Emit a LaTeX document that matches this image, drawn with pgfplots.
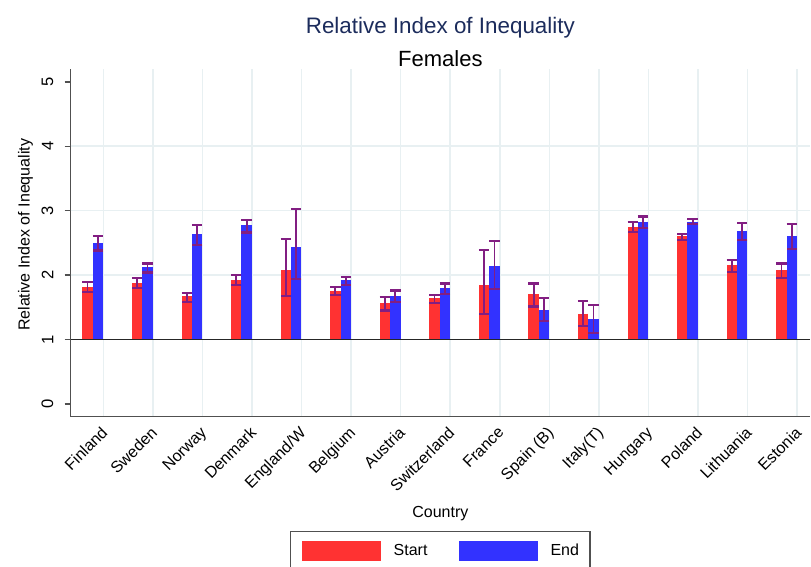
\documentclass[border=0pt]{standalone}
\usepackage{fontspec}
\setmainfont{Liberation Sans}
\usepackage{pgfplots}
\usepackage{pgfplotstable}
\pgfplotsset{compat=1.18}

\definecolor{barred}{RGB}{255,50,50}
\definecolor{barblue}{RGB}{50,50,255}
\definecolor{errc}{RGB}{130,30,130}
\definecolor{gridc}{RGB}{232,240,242}
\definecolor{axgray}{RGB}{80,80,80}
\definecolor{titlec}{RGB}{28,44,92}

% idx, start (value, lower, upper), end (value, lower, upper)
\pgfplotstableread{
idx s    slo  shi  e    elo  ehi
1   1.82 1.74 1.89 2.50 2.38 2.61
2   1.88 1.80 1.95 2.12 2.04 2.18
3   1.67 1.58 1.72 2.63 2.47 2.78
4   1.93 1.85 2.00 2.77 2.66 2.85
5   2.08 1.68 2.56 2.43 1.94 3.03
6   1.75 1.69 1.81 1.92 1.85 1.97
7   1.56 1.45 1.66 1.67 1.58 1.76
8   1.65 1.57 1.69 1.80 1.71 1.87
9   1.84 1.40 2.39 2.14 1.78 2.53
10  1.70 1.51 1.87 1.46 1.28 1.64
11  1.40 1.21 1.60 1.31 1.10 1.54
12  2.75 2.67 2.82 2.83 2.73 2.91
13  2.61 2.54 2.64 2.83 2.79 2.87
14  2.16 2.05 2.23 2.69 2.55 2.81
15  2.08 1.96 2.18 2.61 2.41 2.79
}\rii

\begin{document}
\begin{tikzpicture}
\begin{axis}[
    scale only axis,
    width=369.65pt, height=173.85pt,
    xmin=0.342, xmax=15.26,
    ymin=-0.2, ymax=5.2,
    axis lines*=left,
    axis line style={axgray, line width=0.75pt},
    clip=false,
    xtick={1,...,15},
    xticklabels={Finland,Sweden,Norway,Denmark,England/W,Belgium,Austria,Switzerland,France,Spain (B),Italy(T),Hungary,Poland,Lithuania,Estonia},
    xtick style={draw=none},
    xmajorgrids,
    major grid style={gridc, line width=0.8pt},
    xticklabel style={font=\fontsize{8}{9.6}\selectfont, inner sep=0pt,
        xshift=-1.5pt, yshift=-1.25pt, rotate=45, anchor=north east},
    ytick={0,...,5},
    tick align=outside,
    major tick length=3pt,
    ytick style={axgray, line width=0.75pt},
    yticklabel style={font=\fontsize{8.3}{9.6}\selectfont, xshift=-5.5pt,
        rotate=90, anchor=south, inner xsep=0pt, inner ysep=0pt},
    extra y ticks={2,3,4},
    extra y tick labels={},
    extra y tick style={grid=major, major tick length=0pt},
    /pgf/number format/assume math mode=true,
    legend style={at={(0.5,0)}, anchor=north, yshift=-57pt,
        draw=axgray, line width=0.75pt, inner xsep=5.5pt, inner ysep=5pt,
        font=\fontsize{8}{9.6}\selectfont,
        nodes={inner sep=0pt}, cells={anchor=west},
        /tikz/every odd column/.append style={column sep=6.5pt},
        /tikz/every even column/.append style={column sep=15.5pt}},
    legend columns=2,
]
% bars: drawn as wide error bars rising from the reference line at 1
\addplot[draw=none, mark=none,
    legend image code/.code={\fill[barred] (0pt,-5pt) rectangle (39.5pt,5pt);},
    error bars/.cd, y dir=minus, y explicit, error mark=none,
    error bar style={draw=barred, line width=5.2pt}]
    table[x expr=\thisrow{idx}-0.317, y=s, y error minus expr=\thisrow{s}-1] {\rii};
\addlegendentry{Start}
\addplot[draw=none, mark=none,
    legend image code/.code={\fill[barblue] (0pt,-5pt) rectangle (39.5pt,5pt);},
    error bars/.cd, y dir=minus, y explicit, error mark=none,
    error bar style={draw=barblue, line width=5.2pt}]
    table[x expr=\thisrow{idx}-0.108, y=e, y error minus expr=\thisrow{e}-1] {\rii};
\addlegendentry{End}
% confidence intervals
\addplot[draw=none, mark=none, forget plot,
    error bars/.cd, y dir=both, y explicit,
    error bar style={draw=errc, line width=0.9pt},
    error mark options={errc, rotate=90, mark size=2.6pt, line width=1.1pt}]
    table[x expr=\thisrow{idx}-0.317, y=s,
          y error plus expr=\thisrow{shi}-\thisrow{s},
          y error minus expr=\thisrow{s}-\thisrow{slo}] {\rii};
\addplot[draw=none, mark=none, forget plot,
    error bars/.cd, y dir=both, y explicit,
    error bar style={draw=errc, line width=0.9pt},
    error mark options={errc, rotate=90, mark size=2.6pt, line width=1.1pt}]
    table[x expr=\thisrow{idx}-0.108, y=e,
          y error plus expr=\thisrow{ehi}-\thisrow{e},
          y error minus expr=\thisrow{e}-\thisrow{elo}] {\rii};
\draw[black!85, line width=0.7pt] (axis cs:0.342,1) -- (axis cs:15.26,1);

\node[anchor=base, text=titlec, font=\fontsize{11.2}{13}\selectfont]
    at ([yshift=17.5pt]rel axis cs:0.5,1) {Relative Index of Inequality};
\node[anchor=base, font=\fontsize{11}{13}\selectfont]
    at ([yshift=1pt]rel axis cs:0.5,1) {Females};
\node[anchor=base, font=\fontsize{8}{9.6}\selectfont]
    at ([yshift=-50.5pt]rel axis cs:0.5,0) {Country};
\node[anchor=base, rotate=90, font=\fontsize{8}{9.6}\selectfont]
    at ([xshift=-20.5pt, yshift=4pt]rel axis cs:0,0.5) {Relative Index of Inequality};
\coordinate (sw) at (rel axis cs:0,0);
\coordinate (ne) at (rel axis cs:1,1);
\end{axis}
\pgfresetboundingbox
\path ([xshift=-35.35pt,yshift=-75.15pt]sw) rectangle ([xshift=0.5pt,yshift=34.5pt]ne);
\end{tikzpicture}
\end{document}
